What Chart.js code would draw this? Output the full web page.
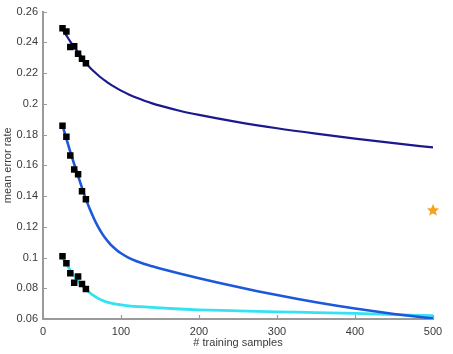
<!DOCTYPE html>
<html>
<head>
<meta charset="utf-8">
<script src="https://cdn.jsdelivr.net/npm/chart.js@4/dist/chart.umd.min.js"></script>
<style>
html,body{margin:0;padding:0;background:#fff;}
#wrap{width:453px;height:354px;}
</style>
</head>
<body>
<div id="wrap"><canvas id="c" width="453" height="354"></canvas></div>
<script>
// ---- data ----
const darkX     = [25,30,35,40,45,50,55,60,65,70,75,80,85,90,100,110,120,130,140,150,175,200,250,300,350,400,450,500];
const curveDark = [0.2485,0.2445,0.2405,0.2370,0.2335,0.2300,0.2265,0.2237,0.2212,0.2189,0.2168,0.2149,0.2131,0.2115,0.2086,0.2061,0.2039,0.2020,0.2003,0.1988,0.1955,0.1928,0.1881,0.1841,0.1806,0.1774,0.1744,0.1716];

const midX      = [25,30,35,40,45,50,55,60,65,70,75,80,85,90,95,100,110,120,130,140,150,175,200,225,250,275,300,325,350,375,400,425,450,475,500];
const curveMid  = [0.1860,0.1772,0.1688,0.1608,0.1530,0.1453,0.1380,0.1315,0.1257,0.1206,0.1162,0.1125,0.1094,0.1068,0.1046,0.1028,0.0998,0.0976,0.0958,0.0943,0.0929,0.0896,0.0865,0.0836,0.0808,0.0781,0.0756,0.0732,0.0709,0.0688,0.0668,0.0650,0.0633,0.0618,0.0604];

const cyanX     = [25,30,35,40,45,50,55,60,65,70,75,80,90,100,110,125,150,175,200,250,300,350,400,450,500];
const curveCyan = [0.1000,0.0958,0.0917,0.0880,0.0848,0.0820,0.0795,0.0770,0.0752,0.0736,0.0723,0.0713,0.0700,0.0692,0.0686,0.0680,0.0672,0.0665,0.0660,0.0653,0.0647,0.0642,0.0636,0.0629,0.0621];

const markX    = [25,30,35,40,45,50,55];
const markDark = [0.2492,0.2470,0.2369,0.2375,0.2326,0.2294,0.2264];
const markMid  = [0.1858,0.1785,0.1664,0.1573,0.1541,0.1431,0.1379];
const markCyan = [0.1008,0.0963,0.0898,0.0836,0.0877,0.0827,0.0795];

const starX = [500];
const starY = [0.131];

const xTicks = [0,100,200,300,400,500];
const yTicks = [0.06,0.08,0.1,0.12,0.14,0.16,0.18,0.2,0.22,0.24,0.26];

const toPts = (xs, ys) => xs.map((x, i) => ({x: x, y: ys[i]}));

// filled star marker image
function starImage(size, color) {
  const c = document.createElement('canvas');
  c.width = size; c.height = size;
  const g = c.getContext('2d');
  const cx = size / 2, cy = size / 2 + 0.5, R = size / 2 - 0.5, r = R * 0.45;
  g.beginPath();
  for (let i = 0; i < 10; i++) {
    const rad = (i % 2 === 0) ? R : r;
    const a = -Math.PI / 2 + i * Math.PI / 5;
    const px = cx + rad * Math.cos(a), py = cy + rad * Math.sin(a);
    if (i === 0) g.moveTo(px, py); else g.lineTo(px, py);
  }
  g.closePath();
  g.fillStyle = color;
  g.fill();
  return c;
}
const star = starImage(14, '#f5a21c');

const axisColor = '#9a9a9a';
const textColor = '#3a3a3a';
const font = {family: "'Liberation Sans', Arial, sans-serif", size: 11};

const inwardTicks = {
  id: 'inwardTicks',
  afterDraw(chart) {
    const ctx = chart.ctx, a = chart.chartArea;
    const xs = chart.scales.x, ys = chart.scales.y;
    ctx.save();
    ctx.strokeStyle = axisColor;
    ctx.lineWidth = 1.2;
    ctx.beginPath();
    xs.ticks.forEach((t, i) => {
      const px = Math.round(xs.getPixelForTick(i)) + 0.5;
      ctx.moveTo(px, a.bottom);
      ctx.lineTo(px, a.bottom - 4);
    });
    ys.ticks.forEach((t, i) => {
      const py = Math.round(ys.getPixelForTick(i)) + 0.5;
      ctx.moveTo(a.left, py);
      ctx.lineTo(a.left + 4, py);
    });
    ctx.stroke();
    ctx.restore();
  }
};

const sq = {showLine: false, pointStyle: 'rect', pointRadius: 4.6, pointHoverRadius: 4.6, backgroundColor: '#000', borderWidth: 0, order: 0};
const ln = {showLine: true, pointRadius: 0, pointHoverRadius: 0, cubicInterpolationMode: 'monotone'};

new Chart(document.getElementById('c'), {
  type: 'scatter',
  data: {
    datasets: [
      Object.assign({data: toPts(markX, markDark)}, sq),
      Object.assign({data: toPts(markX, markMid)}, sq),
      Object.assign({data: toPts(markX, markCyan)}, sq),
      {data: toPts(starX, starY), showLine: false, pointStyle: star, pointRadius: 7, clip: false, order: 0},
      Object.assign({data: toPts(darkX, curveDark), borderColor: '#1a1a8e', borderWidth: 2.2, order: 3}, ln),
      Object.assign({data: toPts(midX, curveMid), borderColor: '#1c58dc', borderWidth: 2.6, order: 1}, ln),
      Object.assign({data: toPts(cyanX, curveCyan), borderColor: '#35e2f2', borderWidth: 2.8, order: 2}, ln)
    ]
  },
  options: {
    responsive: false,
    animation: false,
    devicePixelRatio: 1,
    layout: {padding: {top: 10, right: 20, left: 0, bottom: 0}},
    plugins: {legend: {display: false}, tooltip: {enabled: false}},
    scales: {
      x: {
        type: 'linear', min: 0, max: 500,
        afterBuildTicks: s => { s.ticks = xTicks.map(v => ({value: v})); },
        afterFit: s => { s.height = 35; },
        grid: {display: false, drawTicks: false},
        border: {display: true, color: axisColor, width: 2},
        ticks: {color: textColor, font: font, padding: 6, maxRotation: 0},
        title: {display: true, text: '# training samples', color: textColor, font: font, padding: {top: 0, bottom: 4}}
      },
      y: {
        type: 'linear', min: 0.06, max: 0.26,
        afterBuildTicks: s => { s.ticks = yTicks.map(v => ({value: v})); },
        afterFit: s => { s.width = 43; },
        grid: {display: false, drawTicks: false},
        border: {display: true, color: axisColor, width: 2},
        ticks: {color: textColor, font: font, padding: 5, callback: v => String(parseFloat(v.toFixed(2)))},
        title: {display: true, text: 'mean error rate', color: textColor, font: font, padding: {top: 1, bottom: 0}}
      }
    }
  },
  plugins: [inwardTicks]
});
</script>
</body>
</html>
